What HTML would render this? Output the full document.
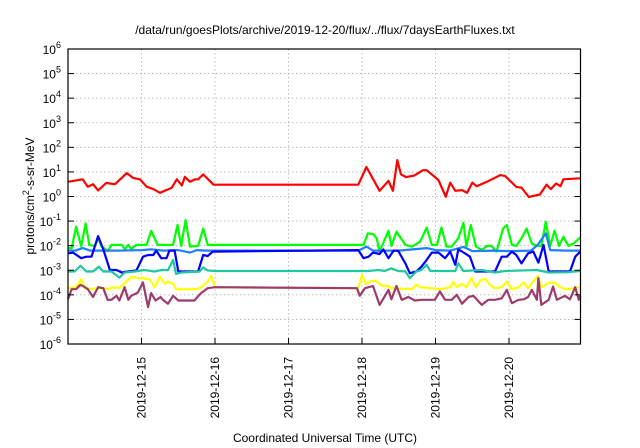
<!DOCTYPE html>
<html><head><meta charset="utf-8"><style>
body{margin:0;background:#fff;}
svg{display:block;font-family:"Liberation Sans",sans-serif;}
</style></head><body>
<svg id="chart" width="640" height="448" viewBox="0 0 640 448">
<text x="325" y="34" font-size="12" text-anchor="middle">/data/run/goesPlots/archive/2019-12-20/flux/../flux/7daysEarthFluxes.txt</text>
<text x="325" y="442" font-size="12" text-anchor="middle">Coordinated Universal Time (UTC)</text>
<text transform="translate(34,196) rotate(-90)" font-size="12" text-anchor="middle">protons/cm<tspan dy="-5" font-size="9">2</tspan><tspan dy="5">-s-sr-MeV</tspan></text>
<g id="grid"></g><g id="series"></g><g id="axes"></g>
</svg>
<script>
const xTickLabels=["2019-12-15","2019-12-16","2019-12-17","2019-12-18","2019-12-19","2019-12-20"];
const xTickDays=[1,2,3,4,5,6];
const yTickExps=[-6,-5,-4,-3,-2,-1,0,1,2,3,4,5,6];
const redT=[0,0.2,0.27,0.34,0.41,0.52,0.64,0.8,0.89,0.98,1.07,1.16,1.25,1.41,1.48,1.55,1.59,1.66,1.73,1.77,1.84,1.98,3.95,4.06,4.24,4.36,4.42,4.48,4.53,4.6,4.71,4.83,4.88,5.04,5.14,5.2,5.27,5.36,5.43,5.5,5.56,5.7,5.88,5.95,6.1,6.17,6.27,6.42,6.51,6.57,6.64,6.7,6.74,6.97];
const redV=[0.6,0.7,0.4,0.5,0.25,0.55,0.5,0.95,0.75,0.7,0.4,0.3,0.15,0.35,0.7,0.45,0.8,0.6,0.7,0.7,0.9,0.48,0.48,1.2,0.23,0.64,0.23,1.48,0.9,0.79,0.85,1.07,1.07,0.67,-0.01,0.56,0.23,0.26,0.15,0.56,0.42,0.6,0.87,0.83,0.39,0.36,-0.02,0.08,0.48,0.3,0.53,0.42,0.7,0.74];
const greenT=[0,0.05,0.11,0.18,0.24,0.29,0.36,0.42,0.45,0.54,0.59,0.73,0.77,0.82,0.86,0.93,1.07,1.13,1.22,1.43,1.49,1.54,1.6,1.66,1.77,1.84,1.9,3.95,4.02,4.08,4.15,4.2,4.24,4.36,4.4,4.47,4.59,4.68,4.79,4.88,4.95,5.02,5.08,5.15,5.22,5.31,5.38,5.42,5.48,5.55,5.63,5.7,5.76,5.83,5.92,5.97,6.04,6.1,6.17,6.24,6.31,6.38,6.44,6.5,6.56,6.62,6.68,6.74,6.81,6.88,6.97];
const greenV=[-2.1,-2.1,-1.23,-2.03,-1.1,-1.97,-2.01,-1.7,-2.01,-2.22,-1.97,-1.97,-2.14,-1.97,-2.14,-1.97,-1.97,-1.4,-1.97,-1.97,-1.16,-2.01,-0.96,-2.04,-2.01,-1.3,-1.97,-1.97,-1.97,-1.5,-1.53,-1.7,-2.24,-1.39,-2.01,-1.43,-1.97,-2.04,-1.84,-1.26,-1.97,-1.97,-1.26,-2.04,-2.04,-1.7,-1.07,-2.04,-1.16,-2.04,-2.18,-2.01,-2.01,-2.24,-1.3,-1.16,-1.97,-2.01,-1.7,-1.3,-1.91,-2.01,-2.01,-1.03,-2.01,-1.39,-2.01,-1.64,-2.01,-1.91,-1.66];
const lblueT=[0,0.1,0.2,0.3,0.5,0.7,1.0,1.13,1.3,1.5,1.66,1.75,1.9,3.95,4.06,4.15,4.5,4.88,5.0,5.2,5.38,5.5,5.8,6.0,6.3,6.39,6.5,6.56,6.8,6.97];
const lblueV=[-2.2,-2.2,-2.1,-2.2,-2.2,-2.2,-2.18,-2.15,-2.2,-2.18,-2.28,-2.18,-2.2,-2.2,-2.04,-2.2,-2.2,-2.1,-2.18,-2.2,-2.05,-2.22,-2.2,-2.22,-2.2,-1.97,-1.5,-2.18,-2.2,-2.2];
const dblueT=[0,0.07,0.18,0.25,0.32,0.41,0.48,0.57,0.66,0.73,0.82,0.93,1.02,1.09,1.16,1.2,1.27,1.34,1.38,1.45,1.5,1.56,1.77,1.84,1.9,1.97,3.95,4.02,4.09,4.15,4.24,4.29,4.36,4.43,4.49,4.59,4.65,4.74,4.81,4.88,4.95,5.04,5.13,5.2,5.27,5.31,5.4,5.47,5.54,5.81,5.9,5.97,6.04,6.1,6.17,6.26,6.33,6.4,6.47,6.54,6.83,6.9,6.97];
const dblueV=[-2.31,-2.28,-2.51,-2.45,-2.45,-1.61,-2.15,-2.99,-2.99,-3.09,-3.05,-3.01,-2.45,-2.38,-2.38,-2.2,-2.51,-2.51,-2.2,-2.2,-3.05,-3.05,-3.05,-2.38,-2.42,-2.24,-2.18,-2.51,-2.45,-2.28,-2.34,-2.15,-2.51,-2.2,-2.2,-2.72,-3.12,-3.05,-2.85,-2.58,-2.28,-2.28,-2.51,-2.24,-2.78,-2.15,-2.31,-2.45,-3.05,-3.05,-2.45,-2.45,-2.24,-2.38,-2.72,-2.31,-2.24,-2.69,-1.97,-3.05,-3.05,-2.45,-2.24];
const tealT=[0,0.09,0.17,0.25,0.34,0.42,0.48,0.59,0.7,0.77,0.91,1.04,1.18,1.27,1.36,1.43,1.47,1.54,1.79,1.84,1.9,2.0,3.95,4.09,4.22,4.31,4.4,4.49,4.59,4.65,4.74,4.81,4.88,4.93,5.27,5.31,5.38,5.63,5.81,5.95,6.38,6.54,6.81,6.97];
const tealV=[-3.05,-3.05,-2.82,-3.05,-3.05,-2.85,-3.05,-3.05,-3.3,-3.09,-3.05,-2.99,-3.05,-2.99,-2.99,-2.58,-3.15,-3.09,-3.05,-2.88,-3.01,-3.03,-3.03,-3.03,-2.99,-3.03,-2.92,-3.03,-3.05,-3.32,-3.05,-2.99,-2.78,-3.03,-3.03,-2.72,-3.03,-2.99,-3.09,-3.03,-2.99,-3.09,-3.08,-3.03];
const yellowT=[0,0.11,0.18,0.23,0.32,0.45,0.54,0.63,0.7,0.79,0.86,0.98,1.11,1.18,1.25,1.32,1.36,1.43,1.47,1.75,1.81,1.9,1.95,2.0,3.95,4.0,4.05,4.11,4.18,4.24,4.29,4.36,4.4,4.68,4.74,4.79,5.08,5.2,5.24,5.29,5.36,5.42,5.49,5.55,5.62,5.68,5.74,5.81,5.9,5.97,6.04,6.13,6.2,6.26,6.33,6.39,6.44,6.54,6.63,6.69,6.78,6.9,6.97];
const yellowV=[-3.73,-3.69,-3.36,-3.73,-3.76,-3.73,-3.76,-3.69,-3.73,-3.46,-3.28,-3.32,-3.36,-3.69,-3.26,-3.55,-3.46,-3.55,-3.77,-3.77,-3.7,-3.46,-3.23,-3.69,-3.73,-3.19,-3.55,-3.46,-3.42,-3.55,-3.64,-3.64,-3.73,-3.77,-3.59,-3.69,-3.77,-3.69,-3.46,-3.69,-3.55,-3.69,-3.32,-3.69,-3.39,-3.36,-3.59,-3.73,-3.69,-3.46,-3.77,-3.69,-3.5,-3.73,-3.46,-3.23,-3.69,-3.52,-3.5,-3.69,-3.77,-3.73,-3.69];
const maroonT=[0,0.05,0.11,0.17,0.23,0.27,0.34,0.41,0.48,0.54,0.59,0.66,0.7,0.77,0.82,0.86,0.95,1.02,1.09,1.13,1.19,1.26,1.29,1.36,1.43,1.5,1.72,1.81,1.9,2.0,3.93,3.97,4.04,4.15,4.24,4.36,4.4,4.47,4.54,4.63,4.72,4.81,4.99,5.06,5.13,5.22,5.29,5.36,5.45,5.515,5.63,5.72,5.81,5.9,5.97,6.04,6.13,6.2,6.26,6.31,6.38,6.4,6.44,6.54,6.6,6.65,6.76,6.83,6.9,6.95,6.97];
const maroonV=[-4.18,-3.77,-3.77,-3.59,-3.69,-3.77,-4.09,-3.69,-3.73,-4.2,-4.2,-4.04,-4.23,-3.69,-4.2,-4.04,-3.91,-3.5,-4.5,-3.93,-4.23,-4.09,-4.2,-4.36,-4.04,-4.23,-4.23,-3.93,-3.73,-3.69,-3.73,-4.04,-3.73,-3.64,-4.41,-3.8,-4.18,-3.64,-4.2,-4.09,-4.23,-4.2,-4.2,-3.86,-4.2,-4.2,-4.0,-4.36,-4.09,-4.04,-4.41,-4.2,-4.2,-4.14,-3.8,-4.34,-4.2,-4.18,-4.09,-3.8,-4.2,-3.32,-4.41,-4.2,-3.66,-4.2,-4.04,-4.18,-3.69,-4.2,-4.04];

const NS='http://www.w3.org/2000/svg';
const L=68,R=580.5,T=49,B=344;
function xs(d){return L+d*73.5;}
function ys(e){return B-(e+6)*(B-T)/12;}
function mk(tag,attrs,parent){const e=document.createElementNS(NS,tag);for(const k in attrs)e.setAttribute(k,attrs[k]);parent.appendChild(e);return e;}
const grid=document.getElementById('grid'),axes=document.getElementById('axes'),ser=document.getElementById('series');

yTickExps.forEach(e=>{
  const y=ys(e);
  if(e>-6&&e<6){const g=mk('line',{x1:L,x2:R,y1:y,y2:y,stroke:'#b0b0b0','stroke-width':0.8,'stroke-dasharray':'1.5,2.5'},grid);
  
  }
  const t1=mk('line',{x1:L,x2:L+6,y1:y,y2:y,stroke:'#000'},axes);
  
  
  const t2=mk('line',{x1:R-6,x2:R,y1:y,y2:y,stroke:'#000'},axes);
  
  
  const tx=mk('text',{x:61,y:y+5,'font-size':12,'text-anchor':'end'},axes);
  
  
  tx.innerHTML='10<tspan dy="-6" font-size="9">'+e+'</tspan>';
});
xTickDays.forEach((d,i)=>{
  const x=xs(d);
  const g=mk('line',{x1:x,x2:x,y1:T,y2:B,stroke:'#b0b0b0','stroke-width':0.8,'stroke-dasharray':'1.5,2.5'},grid);
  
  
  const t=mk('line',{x1:x,x2:x,y1:B,y2:B-6,stroke:'#000'},axes);
  
  
  const tx=mk('text',{transform:'translate('+(x+4)+','+(B+13)+') rotate(-90)','font-size':12,'text-anchor':'end'},axes);
  
  
  tx.textContent=xTickLabels[i];
});
const border=mk('rect',{x:L,y:T,width:R-L,height:B-T,fill:'none',stroke:'#000','stroke-width':1.2},axes);



const seriesList=[
 ['red-series',redT,redV,'#ff0000'],
 ['green-series',greenT,greenV,'#00ff00'],
 ['light-blue-series',lblueT,lblueV,'#1e7fff'],
 ['dark-blue-series',dblueT,dblueV,'#0000ff'],
 ['teal-series',tealT,tealV,'#20c8a0'],
 ['yellow-series',yellowT,yellowV,'#ffff00'],
 ['maroon-series',maroonT,maroonV,'#9c3c6c']
];
seriesList.forEach(s=>{
  const pts=s[1].map((t,i)=>xs(t).toFixed(1)+','+ys(s[2][i]).toFixed(1)).join(' ');
  const p=mk('polyline',{points:pts,fill:'none',stroke:s[3],'stroke-width':2.2,'stroke-linejoin':'round'},ser);
  
  
});
</script>
</body></html>
